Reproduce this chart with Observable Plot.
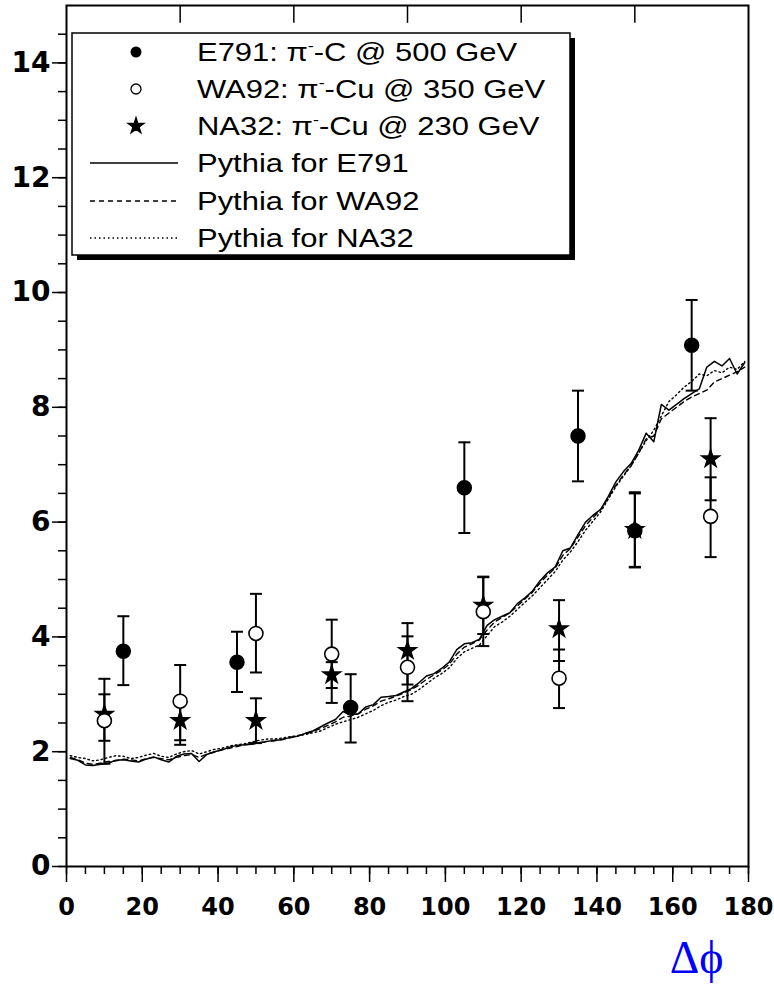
<!DOCTYPE html>
<html><head><meta charset="utf-8">
<script src="https://cdn.jsdelivr.net/npm/d3@7"></script>
<script src="https://cdn.jsdelivr.net/npm/@observablehq/plot@0.6"></script>
<style>html,body{margin:0;padding:0;background:#fff}#chart svg{display:block}</style>
</head><body><div id="chart"></div>
<script>
// ---- axis ticks ----
const xTicks = [0,20,40,60,80,100,120,140,160,180];
const xMinorTicks = [0,5,10,15,20,25,30,35,40,45,50,55,60,65,70,75,80,85,90,95,100,105,110,115,120,125,130,135,140,145,150,155,160,165,170,175,180];
const xTopTicks = [30,60,90,120,150];
const yTicks = [0,2,4,6,8,10,12,14];
const yMinorTicks = [0,0.5,1,1.5,2,2.5,3,3.5,4,4.5,5,5.5,6,6.5,7,7.5,8,8.5,9,9.5,10,10.5,11,11.5,12,12.5,13,13.5,14,14.5];

// ---- data points (Δφ in degrees) ----
const e791X  = [15, 45, 75, 105, 135, 150, 165];
const e791Y  = [3.75, 3.56, 2.77, 6.60, 7.50, 5.85, 9.08];
const e791Lo = [3.16, 3.04, 2.16, 5.81, 6.71, 5.21, 8.29];
const e791Hi = [4.36, 4.09, 3.35, 7.39, 8.29, 6.52, 9.87];

const wa92X  = [10, 30, 50, 70, 90, 110, 130, 170];
const wa92Y  = [2.54, 2.88, 4.06, 3.70, 3.47, 4.44, 3.28, 6.10];
const wa92Lo = [1.79, 2.20, 3.38, 2.85, 2.88, 3.84, 2.76, 5.39];
const wa92Hi = [3.27, 3.51, 4.75, 4.30, 4.01, 5.04, 3.78, 6.78];

const na32X  = [10, 30, 50, 70, 90, 110, 130, 150, 170];
const na32Y  = [2.65, 2.54, 2.54, 3.34, 3.76, 4.55, 4.14, 5.87, 7.10];
const na32Lo = [2.19, 2.12, 2.15, 3.11, 3.17, 4.05, 3.58, 5.22, 6.38];
const na32Hi = [3.00, 2.94, 2.93, 3.56, 4.24, 5.05, 4.64, 6.50, 7.81];

// ---- Pythia curves ----
const phiBins = [1,3,5,7,9,11,13,15,17,19,21,23,25,27,29,31,33,35,37,39,
  41,43,45,47,49,51,53,55,57,59,61,63,65,67,69,71,73,75,77,79,
  81,83,85,87,89,91,93,95,97,99,101,103,105,107,109,111,113,115,117,119,
  121,123,125,127,129,131,133,135,137,139,141,143,145,147,149,151,153,155,157,159,
  161,163,165,167,169,171,173,175,177,179];
const pythiaE791 = [1.88,1.85,1.77,1.76,1.78,1.80,1.85,1.86,1.84,1.82,1.87,1.91,1.86,1.82,1.92,1.96,1.97,1.83,1.95,2.00,
  2.03,2.08,2.11,2.12,2.13,2.16,2.18,2.20,2.21,2.25,
  2.27,2.32,2.36,2.43,2.50,2.56,2.70,2.64,2.66,2.78,
  2.82,2.95,2.96,2.98,3.04,3.10,3.20,3.32,3.36,3.45,
  3.56,3.78,3.88,3.90,3.96,4.20,4.30,4.36,4.42,4.58,
  4.68,4.80,4.98,5.12,5.22,5.50,5.55,5.78,6.00,6.12,
  6.22,6.45,6.70,6.88,7.02,7.25,7.55,7.40,8.05,7.95,
  8.05,8.15,8.24,8.32,8.70,8.80,8.72,8.85,8.58,8.78];
const pythiaWA92 = [1.90,1.86,1.80,1.78,1.80,1.83,1.84,1.87,1.86,1.84,1.88,1.90,1.88,1.86,1.90,1.93,1.95,1.90,1.96,1.99,
  2.04,2.06,2.09,2.12,2.14,2.15,2.18,2.19,2.22,2.24,
  2.28,2.31,2.35,2.40,2.46,2.52,2.60,2.62,2.66,2.74,
  2.80,2.88,2.92,2.97,3.02,3.08,3.16,3.26,3.34,3.42,
  3.52,3.70,3.82,3.88,3.95,4.12,4.26,4.34,4.42,4.54,
  4.66,4.78,4.94,5.08,5.20,5.42,5.54,5.74,5.94,6.08,
  6.22,6.42,6.64,6.82,6.98,7.20,7.45,7.50,7.80,7.90,
  8.00,8.10,8.18,8.24,8.30,8.44,8.50,8.56,8.62,8.70];
const pythiaNA32 = [1.93,1.90,1.88,1.84,1.86,1.90,1.93,1.92,1.88,1.90,1.94,1.97,1.92,1.90,1.96,2.00,2.02,1.96,2.00,2.04,
  2.06,2.10,2.12,2.14,2.17,2.20,2.22,2.22,2.24,2.26,
  2.28,2.30,2.33,2.36,2.42,2.48,2.52,2.56,2.60,2.66,
  2.72,2.80,2.86,2.90,2.96,3.00,3.08,3.18,3.28,3.36,
  3.46,3.62,3.74,3.80,3.86,4.02,4.18,4.26,4.36,4.48,
  4.60,4.72,4.86,5.00,5.14,5.34,5.48,5.66,5.86,6.02,
  6.18,6.40,6.62,6.80,6.98,7.20,7.42,7.60,7.85,8.10,
  8.22,8.35,8.45,8.58,8.55,8.64,8.60,8.70,8.66,8.80];

const legendLabels = [
  ["E791: π", "-C @ 500 GeV"],
  ["WA92: π", "-Cu @ 350 GeV"],
  ["NA32: π", "-Cu @ 230 GeV"],
  ["Pythia for E791"],
  ["Pythia for WA92"],
  ["Pythia for NA32"]
];

// ---- build rows ----
const pts = (xs, ys, lo, hi) => xs.map((x, i) => ({x, y: ys[i], lo: lo[i], hi: hi[i]}));
const e791 = pts(e791X, e791Y, e791Lo, e791Hi);
const wa92 = pts(wa92X, wa92Y, wa92Lo, wa92Hi);
const na32 = pts(na32X, na32Y, na32Lo, na32Hi);
const curve = ys => phiBins.map((x, i) => ({x, y: ys[i]}));

const capSymbol = {draw(ctx, size) { const r = Math.sqrt(size / Math.PI); ctx.moveTo(-r, 0); ctx.lineTo(r, 0); }};
const errMarks = rows => [
  Plot.ruleX(rows, {x: "x", y1: "lo", y2: "hi", stroke: "#000", strokeWidth: 2}),
  Plot.dot(rows, {x: "x", y: "lo", symbol: capSymbol, r: 6, stroke: "#000", strokeWidth: 2, fill: "none"}),
  Plot.dot(rows, {x: "x", y: "hi", symbol: capSymbol, r: 6, stroke: "#000", strokeWidth: 2, fill: "none"})
];

const tickFont = {fontFamily: "'DejaVu Sans', sans-serif", fontWeight: "bold"};
const intFmt = d => String(d);

const plot = Plot.plot({
  width: 774, height: 987,
  marginLeft: 66, marginRight: 26, marginTop: 5, marginBottom: 121,
  x: {domain: [0, 180]},
  y: {domain: [0, 15]},
  style: {background: "#fff", color: "#000", fontFamily: "'DejaVu Sans', sans-serif", fontWeight: "bold"},
  marks: [
    Plot.line(curve(pythiaNA32), {x: "x", y: "y", stroke: "#000", strokeWidth: 1.4, strokeDasharray: "1.5,3"}),
    Plot.line(curve(pythiaWA92), {x: "x", y: "y", stroke: "#000", strokeWidth: 1.4, strokeDasharray: "5,4"}),
    Plot.line(curve(pythiaE791), {x: "x", y: "y", stroke: "#000", strokeWidth: 1.5}),
    ...errMarks(na32), ...errMarks(wa92), ...errMarks(e791),
    Plot.dot(na32, {x: "x", y: "y", symbol: "star", r: 5.5, fill: "#000", stroke: "#000", strokeWidth: 1.5}),
    Plot.dot(wa92, {x: "x", y: "y", symbol: "circle", r: 7, fill: "#fff", stroke: "#000", strokeWidth: 1.6}),
    Plot.dot(e791, {x: "x", y: "y", symbol: "circle", r: 7, fill: "#000", stroke: "#000"}),
    Plot.frame({stroke: "#000", strokeWidth: 2}),
    Plot.ruleX(xTopTicks, {x: d => d, y1: 15, y2: 14.69, stroke: "#000", strokeWidth: 1.5}),
    Plot.axisY(yMinorTicks, {tickSize: 8, strokeWidth: 1.5, tickFormat: () => "", label: null}),
    Plot.axisY(yTicks, {tickSize: 14, tickPadding: 2, strokeWidth: 1.5, fontSize: 28, ...tickFont, tickFormat: intFmt, label: null}),
    Plot.axisX(xMinorTicks, {tickSize: 8, strokeWidth: 1.5, tickFormat: () => "", label: null}),
    Plot.axisX(xTicks, {tickSize: 16, tickPadding: 15, strokeWidth: 1.5, fontSize: 24, ...tickFont, tickFormat: intFmt, label: null}),
    Plot.text(["Δϕ"], {text: d => d, frameAnchor: "bottom-right", dx: -25, dy: 92, textAnchor: "end", lineAnchor: "middle",
      fill: "#0000ff", fontSize: 46, fontFamily: "'Liberation Serif', 'Times New Roman', serif", fontWeight: "normal"})
  ]
});
document.getElementById("chart").appendChild(plot);

// ---- legend box ----
const svg = d3.select(plot);
const lg = svg.append("g").attr("class", "legend").attr("text-anchor", "start");
lg.append("rect").attr("x", 77).attr("y", 38).attr("width", 498).attr("height", 222).attr("fill", "#000");
lg.append("rect").attr("x", 72).attr("y", 33).attr("width", 498).attr("height", 222)
  .attr("fill", "#fff").attr("stroke", "#000").attr("stroke-width", 1.5);
const rowY = [52, 89, 126, 163, 201, 238];
const symX = 136;
lg.append("circle").attr("cx", symX).attr("cy", rowY[0]).attr("r", 5.5).attr("fill", "#000");
lg.append("circle").attr("cx", symX).attr("cy", rowY[1]).attr("r", 5).attr("fill", "#fff").attr("stroke", "#000").attr("stroke-width", 1.3);
lg.append("path").attr("transform", `translate(${symX},${rowY[2]})`).attr("d", d3.symbol(d3.symbolStar, 80)()).attr("fill", "#000").attr("stroke", "#000").attr("stroke-width", 1.2);
const dashes = [null, "5,4", "1.5,3"];
for (let i = 0; i < 3; i++) {
  const l = lg.append("line").attr("x1", 90).attr("x2", 178).attr("y1", rowY[3 + i]).attr("y2", rowY[3 + i])
    .attr("stroke", "#000").attr("stroke-width", 1.4);
  if (dashes[i]) l.attr("stroke-dasharray", dashes[i]);
}
legendLabels.forEach((parts, i) => {
  const t = lg.append("text").attr("class", "lt").attr("x", 197).attr("y", rowY[i] + 9).attr("text-anchor", "start")
    .attr("font-family", "'Liberation Sans', Arial, sans-serif").attr("font-weight", "normal").attr("font-size", 26).attr("fill", "#000");
  if (parts.length === 1) {
    t.text(parts[0]);
  } else {
    t.append("tspan").text(parts[0]);
    t.append("tspan").attr("font-size", 15).attr("dy", -10).text("-");
    t.append("tspan").attr("dy", 10).text(parts[1]);
  }
});
lg.selectAll("text.lt").each(function() {
  const L = this.getComputedTextLength();
  this.setAttribute("textLength", (L * 1.19).toFixed(1));
  this.setAttribute("lengthAdjust", "spacingAndGlyphs");
});
</script>
</body></html>
